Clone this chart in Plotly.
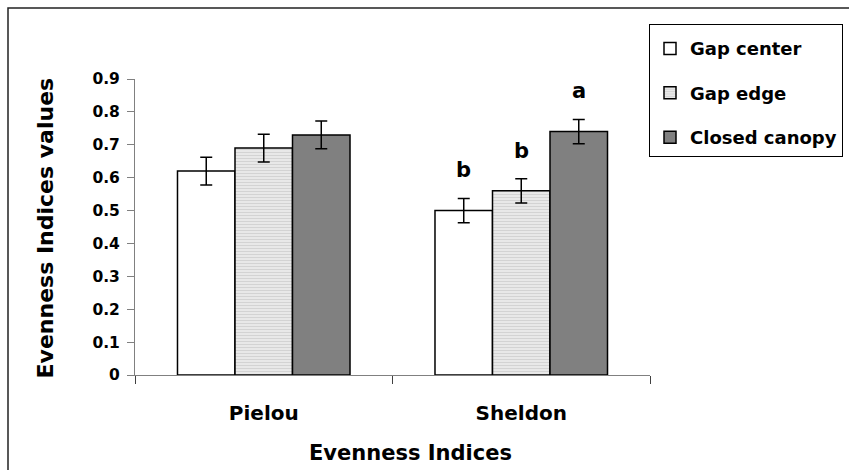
import plotly.graph_objects as go

# Evenness indices by canopy position
indices = ["Pielou", "Sheldon"]
groups = ["Gap center", "Gap edge", "Closed canopy"]
gap_center = [0.62, 0.50]
gap_edge = [0.69, 0.56]
closed_canopy = [0.73, 0.74]
err_gap_center = [0.042, 0.037]
err_gap_edge = [0.042, 0.037]
err_closed_canopy = [0.042, 0.037]
sheldon_letters = ["b", "b", "a"]
y_ticks = [0, 0.1, 0.2, 0.3, 0.4, 0.5, 0.6, 0.7, 0.8, 0.9]

FONT = "DejaVu Sans"
W, H = 849, 470
ML, MR, MT, MB = 135, 199, 79, 95
BARGAP = 0.33

values = [gap_center, gap_edge, closed_canopy]
errors = [err_gap_center, err_gap_edge, err_closed_canopy]
styles = [
    dict(color="white"),
    dict(color="#efefef",
         pattern=dict(shape="-", size=3, solidity=0.5,
                      fgcolor="#b8b8b8", bgcolor="#efefef")),
    dict(color="#808080"),
]

fig = go.Figure()
for name, vals, errs, st in zip(groups, values, errors, styles):
    fig.add_trace(go.Bar(
        x=indices, y=vals, name=name, legendgroup=name,
        marker=dict(**st, line=dict(color="black", width=1.5)),
        error_y=dict(type="data", array=errs, visible=True,
                     color="black", thickness=1.5, width=6),
    ))

# significance letters above the Sheldon bars
plot_w = W - ML - MR
bar_px = plot_w / len(indices) * (1 - BARGAP) / len(groups)
for i, (letter, vals, errs) in enumerate(zip(sheldon_letters, values, errors)):
    fig.add_annotation(
        x="Sheldon", y=vals[1] + errs[1], text=letter, showarrow=False,
        xshift=(i - 1) * bar_px, yshift=14, yanchor="bottom",
        font=dict(family=FONT, size=21, color="black", weight="bold"),
    )

# axis titles
fig.add_annotation(
    x=(410 - ML) / plot_w, y=-(453 - (H - MB)) / (H - MT - MB),
    xref="paper", yref="paper", text="Evenness Indices", showarrow=False,
    xanchor="center", yanchor="middle",
    font=dict(family=FONT, size=21, color="black", weight="bold"),
)
fig.add_annotation(
    x=-(ML - 45) / plot_w, y=0.495, xref="paper", yref="paper",
    text="Evenness Indices values", showarrow=False, textangle=-90,
    xanchor="center", yanchor="middle",
    font=dict(family=FONT, size=22, color="black", weight="bold"),
)

# outer chart frame
ph = H - MT - MB
fig.add_shape(
    type="rect", xref="paper", yref="paper",
    x0=-(ML - 8) / plot_w, x1=1.5, y0=-0.6, y1=(H - MB - 8) / ph,
    line=dict(color="#222222", width=1.5), fillcolor="rgba(0,0,0,0)",
    layer="above",
)

fig.update_layout(
    width=W, height=H,
    margin=dict(l=ML, r=MR, t=MT, b=MB, autoexpand=False),
    paper_bgcolor="white", plot_bgcolor="white",
    barmode="group", bargap=BARGAP, bargroupgap=0,
    showlegend=True,
    legend=dict(
        x=(649 - ML) / plot_w, y=(H - MB - 24) / ph,
        xanchor="left", yanchor="top",
        bgcolor="white", bordercolor="black", borderwidth=1,
        font=dict(family=FONT, size=18, color="black", weight="bold"),
        title=dict(text=" ", font=dict(size=4)),
        tracegroupgap=18, itemwidth=30,
    ),
    xaxis=dict(
        showline=True, linecolor="#808080", linewidth=1,
        ticks="outside", tickson="boundaries", ticklen=8, tickcolor="#404040",
        ticklabelstandoff=20,
        tickfont=dict(family=FONT, size=20, color="black", weight="bold"),
        showgrid=False, zeroline=False,
    ),
    yaxis=dict(
        range=[0, 0.9], tickvals=y_ticks,
        showline=True, linecolor="#808080", linewidth=1,
        ticks="outside", ticklen=7, tickcolor="#808080",
        ticklabelstandoff=4,
        tickfont=dict(family=FONT, size=15.5, color="black", weight="bold"),
        showgrid=False, zeroline=False,
    ),
)

fig.write_html("out.html")
